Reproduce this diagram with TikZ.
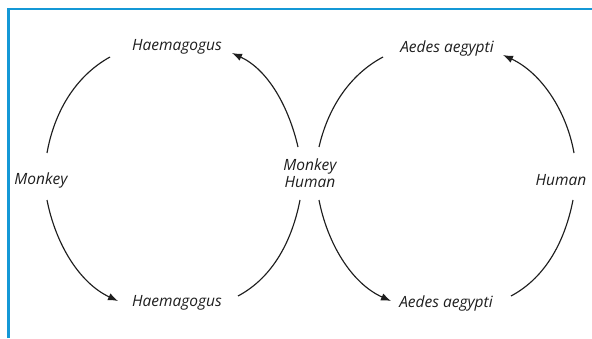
\documentclass[tikz,border=0pt]{standalone}
\usepackage{fontspec}
\setmainfont{Open Sans}
\usetikzlibrary{arrows.meta,positioning,calc}
\definecolor{framecol}{RGB}{20,152,214}
\definecolor{ink}{RGB}{30,30,30}

\begin{document}
\begin{tikzpicture}[x=1pt,y=1pt,
    lbl/.style={font=\itshape\fontsize{15.5}{17}\selectfont, text=ink, inner sep=0pt, align=center},
    cyc/.style={draw=ink, line width=1.15pt, looseness=0.9},
    tip/.style={-{Latex[length=10pt,width=7.5pt]}}]
  \useasboundingbox (0,0) rectangle (592,338);
  % frame
  \draw[framecol, line width=2.4pt] (8.3,0) -- (8.3,328.7) -- (592,328.7);

  % hosts and vectors
  \node[lbl] (haemT) at (177,291) {Haemagogus};
  \node[lbl] (aedT) at (447,290) {Aedes aegypti};
  \node[lbl] (monkL) at (41,158) {Monkey};
  \node[lbl] (mh) at (310,165) {Monkey\\Human};
  \node[lbl] (humR) at (561,158) {Human};
  \node[lbl] (haemB) at (177,35) {Haemagogus};
  \node[lbl] (aedB) at (446,35) {Aedes aegypti};

  % sylvatic cycle
  \draw[cyc] ([shift={(6,27)}]monkL.center) to[out=80,in=209] ([shift={(-67,-10)}]haemT.center);
  \draw[cyc,tip] ([shift={(-12,26)}]mh.center) to[out=103,in=335] ([shift={(55,-6)}]haemT.center);
  \draw[cyc,tip] ([shift={(6,-20)}]monkL.center) to[out=281,in=155] ([shift={(-59,2)}]haemB.center);
  \draw[cyc] ([shift={(61,7)}]haemB.center) to[out=28,in=259] ([shift={(-10,-27)}]mh.center);

  % urban cycle
  \draw[cyc] ([shift={(9,26)}]mh.center) to[out=77,in=208] ([shift={(-64,-9)}]aedT.center);
  \draw[cyc,tip] ([shift={(13,27)}]humR.center) to[out=100,in=335] ([shift={(56,-7)}]aedT.center);
  \draw[cyc,tip] ([shift={(9,-27)}]mh.center) to[out=281,in=156] ([shift={(-55,2)}]aedB.center);
  \draw[cyc] ([shift={(65,7)}]aedB.center) to[out=28,in=259] ([shift={(12,-20)}]humR.center);
\end{tikzpicture}
\end{document}
